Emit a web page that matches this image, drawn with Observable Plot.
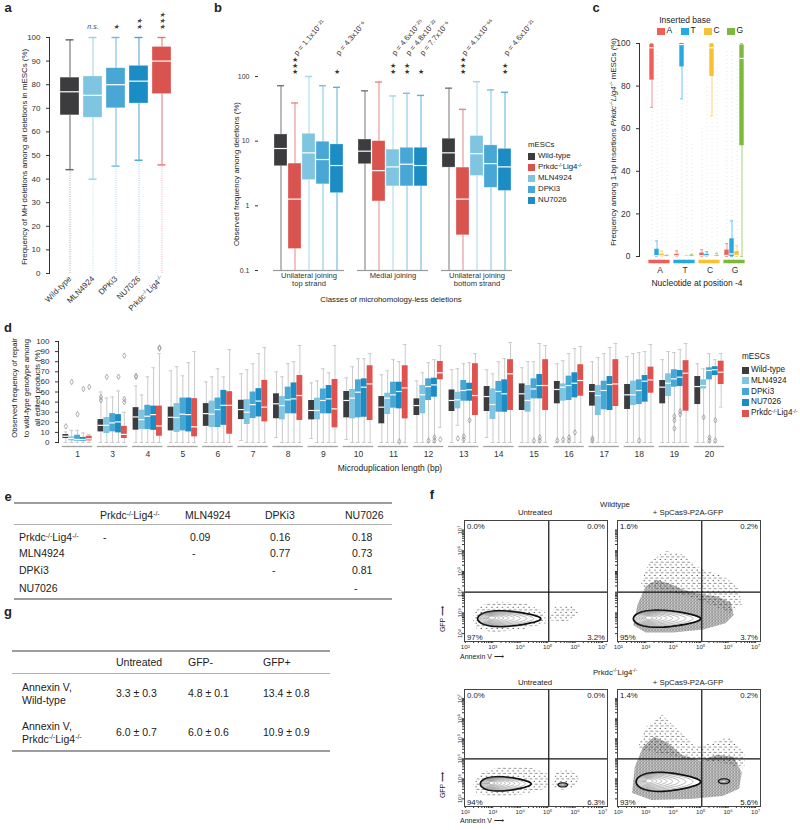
<!DOCTYPE html>
<html><head><meta charset="utf-8">
<script src="https://cdn.jsdelivr.net/npm/d3@7"></script>
<script src="https://cdn.jsdelivr.net/npm/@observablehq/plot@0.6"></script>
<style>
body{margin:0;background:#fff}
#fig{position:relative;width:800px;height:830px;overflow:hidden;background:#fff;font-family:"Liberation Sans",Arial,Helvetica,sans-serif;color:#222}
.t{position:absolute;white-space:nowrap;line-height:1.15}
.t sup{font-size:65%;vertical-align:0;position:relative;top:-0.5em;line-height:0}
.blk{position:absolute}
</style></head><body>
<div id="fig"></div>
<script>
// ---------------- DATA ----------------
const colWT="#3c3c3f", colPrk="#d9534f", colMLN="#7fc5e1", colDPK="#48a7d5", colNU="#1b8cc4";

// Panel a
const aGroups=["Wild-type","MLN4924","DPKi3","NU7026","Prkdc-/-Lig4-/-"];
const aLow=[44,40,45.5,48,46];
const aQ1=[67,66,70,72,76];
const aMed=[77,75.5,80,81.5,90];
const aQ3=[83,83.5,87,88,96];
const aHigh=[99,100,100,100,100];
const aOutMin=[0,0,0,0,0];
const aSig=["","n.s.","★","★\n★","★\n★\n★"];
const aYTicks=[0,10,20,30,40,50,60,70,80,90,100];

// Panel b
const bGroups=["Unilateral joining\ntop strand","Medial joining","Unilateral joining\nbottom strand"];
const bSeries=["Wild-type","Prkdc-/-Lig4-/-","MLN4924","DPKi3","NU7026"];
const bHigh=[[72,39,100,72,68],[60,82,50,55,51],[66,31,83,62,57]];
const bQ3=[[12.7,4.5,13,9.8,8.9],[10.6,10,7.4,7.9,7.9],[10.9,3.9,12,8.6,7.6]];
const bMed=[[7.7,1.27,6.6,5.2,4.2],[7.0,3.5,4.0,4.4,4.2],[6.6,1.27,6.4,4.5,4.0]];
const bQ1=[[4.1,0.215,2.5,2.15,1.57],[4.4,1.17,2.0,2.0,2.0],[3.9,0.35,2.9,1.9,1.7]];
const bLow=[[0.1,0.1,0.1,0.1,0.1],[0.1,0.1,0.1,0.1,0.1],[0.1,0.1,0.1,0.1,0.1]];
const bSig=[["","★\n★\n★","","","★"],["","","★\n★","★\n★","★"],["","★\n★\n★","","","★\n★"]];
const bP=[["","p = 1.1x10⁻²¹","","","p = 4.3x10⁻⁶"],["","","p = 4.6x10⁻²⁵","p = 4.8x10⁻²²","p = 7.7x10⁻⁶"],["","p = 4.1x10⁻⁶⁶","","","p = 4.6x10⁻²¹"]];
const bYTicks=[0.1,1,10,100];

// Panel c  (rows: nucleotide at -4; columns: inserted base A,T,C,G)
const cPositions=["A","T","C","G"];
const cBases=["A","T","C","G"];
const cLow=[[70,0,0,0],[0,74,0,0],[0,0,66,0],[0,0,0,0]];
const cQ1=[[82.8,0,0,0],[0,89,0,0],[0,0,84.5,0],[0,0,0,52]];
const cMed=[[98,0.4,0.3,0.1],[0.3,99.5,0.1,0.1],[0.4,0.3,98,0.1],[0.5,1.2,0.5,93]];
const cQ3=[[99.5,3.4,1.1,0.4],[1.0,100,0.3,0.4],[1.6,1.0,99.7,0.4],[3,8.3,2.3,99.3]];
const cHigh=[[100,7.3,2.6,0.6],[2.6,100,0.5,1],[3.2,2.2,100,1.5],[6,16.7,5,100]];
const cOutLo=[[0,8,3,1],[3,0,1,1],[3,2,0,2],[6,17,5,0]];
const cOutHi=[[69,97,93,73],[30,73,91,53],[60,80,65,92],[96,97,92,0]];
const cYTicks=[0,20,40,60,80,100];

// Panel d  ([low whisker, q1, median, q3, high whisker] per microduplication length)
const dLengths=[1,3,4,5,6,7,8,9,10,11,12,13,14,15,16,17,18,19,20];
const dSeries=["Wild-type","MLN4924","DPKi3","NU7026","Prkdc-/-Lig4-/-"];
const dWildType=[[0,4,6.2,7.9,10.5],[0,10.5,17,22.7,50],[0,12.2,25.3,34.5,56],[0,11.5,25,35,71],[0,16,28.6,38.5,60],[2,22.7,32.6,41.8,68],[5,23.5,38.3,48.2,70],[4,22.4,31.7,41.6,59],[3,24.4,41.6,50.5,64],[0,18.5,35,45.5,67],[0,26.7,36.6,43.2,61],[0,30.7,41.6,52,72],[5,30.7,45.5,55.4,72],[0,31.7,48.2,58,74],[0,38.3,52.5,60.4,78],[0,36,50.5,57.4,80],[0,32.7,47.2,57.4,85],[0,38.3,54.8,61.4,82],[0,37.6,55.4,65.3,78]];
const dMLN4924=[[0,1.6,4,5.6,12],[0,8.9,17,24.7,44],[0,12.8,22.7,32,47],[0,10,24.7,38.5,75],[0,14.8,28,41,65],[0,17.8,30,42.4,72],[0,22.4,36.6,45.5,65],[0,22.4,31.7,43.9,61],[0,23.4,43.9,52.5,75],[0,27.7,43.9,48.8,71],[0,28.4,47.2,56.4,69],[17,33.3,42.3,49.8,73],[0,22.8,37.6,53,68],[0,30,41.6,56.4,80],[0,40.9,54.8,58,81],[0,26.7,46.5,56.4,84],[0,36.6,47.2,60.7,88],[0,45.5,58.7,68,90],[0,53,56.4,62,73]];
const dDPKi3=[[0,1.3,3,7.2,12],[0,10.5,19.4,28.6,45],[0,12.8,26,36.8,65],[0,11.5,28,44,66],[0,14.8,32.6,44,73],[0,23.7,37.5,50,78],[0,28.4,42.3,54.8,78],[0,28.4,41.6,53,73],[0,24.4,49.8,62,83],[0,34,47.2,59.7,82],[0,41.6,55.4,63,79],[0,40.9,51.5,61.4,78],[0,30,50.5,60.4,80],[0,43.2,53,63,80],[0,41.6,56.4,65.7,88],[0,32.4,51.5,60.7,88],[0,37.6,51.5,62,89],[0,54.8,63,72,89],[0,62,71.3,74,88]];
const dNU7026=[[0,1.3,3,5,9.5],[0,9.5,20.4,27.6,51],[0,12,27.6,36,74],[0,10.5,27.6,44,79],[0,17,36.8,51.6,65],[0,25.3,41,53.3,88],[0,28.4,43.2,59,80],[0,28.4,43.2,56.4,69],[0,25,54.8,63,83],[0,33.3,50.5,59.7,80],[0,44.9,57,63.7,82],[0,40.9,52.2,58.7,79],[0,30,48.2,62,83],[0,43.2,56.4,67.3,98],[0,44.2,58.7,69,93],[0,31.7,57.4,65.3,94],[0,39.9,60.7,66.3,90],[0,55.4,64.7,71.3,92],[0,66.3,72,75,82]];
const dPrkdc=[[0,1.6,3.6,6.2,8],[0,4,8,16,30],[0,6.2,16.4,36,88],[0,5.6,15.5,43.4,90],[0,8.2,36.8,50.3,92],[0,20.4,35,61.5,94],[0,21.8,46.5,66.3,96],[0,14.5,33.3,62.4,96],[0,21.8,58,76,88],[0,23.4,54,76,97],[15,62,69,80.2,96],[0,26.7,46.5,78,88],[0,31.7,68,82,99],[0,31.7,56.4,82,96],[0,45.8,61.4,77,95],[0,35.6,58,82,98],[0,48.8,62,74.6,97],[0,31,68.6,81,98],[35,57.4,69.6,80.5,88]];
// outliers: [length, series index, value]
const dOutliers=[[1,0,16],[1,1,60],[1,2,28],[1,3,53],[1,4,55],[3,0,45],[3,0,42],[3,1,65],[3,3,65],[3,4,43],[3,4,40],[3,4,86],[4,0,66],[4,0,65],[4,4,94],[4,4,93],[11,3,1],[12,2,2],[12,3,2],[12,3,5],[12,4,3],[13,1,4],[13,2,6],[13,2,3],[13,3,22],[15,2,2],[15,3,2],[15,3,5],[16,0,2],[16,1,3],[16,2,2],[16,2,5],[16,3,10],[17,0,2],[17,0,4],[18,2,2],[19,2,26],[19,2,22],[19,2,14],[19,3,31],[19,3,28],[20,1,25],[20,2,2],[20,2,5],[20,3,22],[20,3,2]];
const dYTicks=[0,10,20,30,40,50,60,70,80,90,100];

// Panel e
const eCols=["Prkdc-/-Lig4-/-","MLN4924","DPKi3","NU7026"];
const eRowLabels=["Prkdc-/-Lig4-/-","MLN4924","DPKi3","NU7026"];
const eVals=[["-","0.09","0.16","0.18"],["","-","0.77","0.73"],["","","-","0.81"],["","","","-"]];

// Panel g
const gCols=["Untreated","GFP-","GFP+"];
const gRowLabels=["Annexin V,<br>Wild-type","Annexin V,<br>Prkdc-/-Lig4-/-"];
const gVals=[["3.3 ± 0.3","4.8 ± 0.1","13.4 ± 0.8"],["6.0 ± 0.7","6.0 ± 0.6","10.9 ± 0.9"]];

// Panel f (flow cytometry; log10 units for shapes)
const fQuadTL=["0.0%","1.6%","0.0%","1.4%"];
const fQuadTR=["0.0%","0.2%","0.0%","0.2%"];
const fQuadBL=["97%","95%","94%","93%"];
const fQuadBR=["3.2%","3.7%","6.3%","5.6%"];
const fGateX=[10**5.04,10**5.04,10**5.04,10**5.04];
const fGateY=[1e4,1e4,1e4,1e4];
// main population contour: [left, right, centre y, half height, focus x]
const fMainPop=[[2.45,4.75,2.72,0.48,2.95],[2.55,5.0,2.72,0.52,3.1],[2.55,4.4,2.75,0.45,2.95],[2.65,5.0,2.85,0.6,3.1]];
// second population: [cx, cy, rx, ry]
const fSecondPop=[null,null,[5.55,2.7,0.17,0.1],[5.85,2.88,0.2,0.12]];
const fCloudSparse=[
 [[[2.25,2.75],[2.5,3.35],[3.2,3.55],[4.2,3.45],[4.9,3.05],[4.95,2.5],[4.1,2.2],[3.0,2.05],[2.4,2.25]],[[5.05,2.65],[5.25,3.3],[5.9,3.35],[6.15,3.0],[5.7,2.6]]],
 [[[2.8,4.3],[3.1,5.4],[3.7,6.0],[4.4,5.8],[4.9,5.2],[5.3,5.0],[5.8,4.8],[6.4,4.2],[6.5,3.4],[6.1,3.0],[5.0,3.6],[4.0,4.0]]],
 [[[2.3,2.7],[2.55,3.3],[3.3,3.6],[4.4,3.55],[5.0,3.25],[5.0,2.55],[4.2,2.25],[3.1,2.1],[2.4,2.3]],[[5.15,2.6],[5.3,3.35],[5.8,3.45],[6.15,3.1],[6.0,2.55],[5.5,2.45]]],
 [[[2.7,4.5],[3.0,5.6],[3.6,6.2],[4.2,5.4],[4.8,4.6],[5.4,4.8],[6.0,5.1],[6.6,4.3],[6.6,3.5],[5.8,3.8],[4.5,4.0]]]
];
const fCloudDense=[
 [],
 [[[2.55,2.4],[2.7,3.4],[3.0,4.3],[3.4,4.6],[3.9,4.4],[4.4,4.1],[5.0,3.9],[5.6,3.8],[6.1,3.5],[6.2,2.9],[5.9,2.5],[5.1,2.2],[4.0,2.05],[3.0,2.05]]],
 [],
 [[[2.5,2.3],[2.6,3.6],[2.9,4.6],[3.3,5.1],[3.8,4.8],[4.3,4.2],[5.0,3.9],[5.6,4.2],[6.2,4.1],[6.5,3.3],[6.4,2.5],[5.8,2.15],[4.6,2.0],[3.2,1.95]]]
];

// ---------------- HELPERS ----------------
const FONT='"Liberation Sans", Arial, Helvetica, sans-serif';
const fig=document.getElementById("fig");
const SVGNS="http://www.w3.org/2000/svg";
function lighten(c,t){return d3.interpolateRgb(c,"#ffffff")(t);}
function sup(s){return s.replace(/-\/-/g,"<sup>-/-</sup>");}
function addText(html,x,y,o={}){
  const d=document.createElement("div");d.className="t";d.innerHTML=html;
  d.style.fontSize=(o.size||8)+"px";d.style.left=x+"px";d.style.top=y+"px";
  if(o.weight)d.style.fontWeight=o.weight;
  if(o.italic)d.style.fontStyle="italic";
  if(o.align)d.style.textAlign=o.align;
  if(o.lh)d.style.lineHeight=o.lh;
  if(o.color)d.style.color=o.color;
  const ax=o.anchor==="start"?"0%":o.anchor==="end"?"-100%":"-50%";
  d.style.transform=`translate(${ax},-50%)`+(o.rotate?` rotate(${o.rotate}deg)`:"");
  fig.appendChild(d);return d;
}
function block(x,y,w,h,c){const d=document.createElement("div");d.className="blk";
  Object.assign(d.style,{left:x+"px",top:y+"px",width:w+"px",height:h+"px",background:c});fig.appendChild(d);return d;}
function supify(svg){
  svg.querySelectorAll("text").forEach(t=>{
    if(t.querySelector("tspan"))return;
    const s=t.textContent; if(!s.includes("-/-"))return;
    const parts=s.split("-/-"); t.textContent="";
    parts.forEach((p,i)=>{const a=document.createElementNS(SVGNS,"tspan");a.textContent=p;t.appendChild(a);
      if(i<parts.length-1){const u=document.createElementNS(SVGNS,"tspan");u.setAttribute("baseline-shift","super");u.setAttribute("font-size","65%");u.textContent="-/-";t.appendChild(u);}});
  });
}
function place(svg,x,y){svg.style.position="absolute";svg.style.left=x+"px";svg.style.top=y+"px";fig.appendChild(svg);supify(svg);return svg;}
const baseStyle=(fs)=>({background:"transparent",fontFamily:FONT,fontSize:fs,color:"#333",overflow:"visible"});
function boxMarks(rows,o={}){
  const ci=o.capInset??3, bi=o.boxInset??0;
  const m=[Plot.ruleX(rows,{x:"key",y1:"lo",y2:"hi",stroke:d=>d.wcol,strokeWidth:o.ww??1}),
    Plot.tickY(rows,{x:"key",y:"hi",stroke:d=>d.wcol,strokeWidth:o.cw??1.4,insetLeft:ci,insetRight:ci})];
  if(o.lowCap!==false)m.push(Plot.tickY(rows,{x:"key",y:"lo",stroke:d=>d.wcol,strokeWidth:o.cw??1.4,insetLeft:ci,insetRight:ci}));
  m.push(Plot.barY(rows,{x:"key",y1:"q1",y2:"q3",fill:d=>d.col,stroke:o.bs??"none",strokeWidth:0.7,insetLeft:bi,insetRight:bi}));
  m.push(Plot.tickY(rows,{x:"key",y:"med",stroke:"white",strokeWidth:o.mw??1.2,insetLeft:bi,insetRight:bi}));
  return m;
}

// ---------------- PANEL A ----------------
const aColors=[colWT,colMLN,colDPK,colNU,colPrk];
const aRows=aGroups.map((g,i)=>({key:g,lo:aLow[i],q1:aQ1[i],med:aMed[i],q3:aQ3[i],hi:aHigh[i],out:aOutMin[i],sig:aSig[i],col:aColors[i],wcol:lighten(aColors[i],0.2)}));
const pa=Plot.plot({width:200,height:310,marginTop:37,marginBottom:37,marginLeft:49,marginRight:25,
  style:baseStyle("8px"),color:{type:"identity"},
  x:{domain:aGroups,padding:0.16,insetLeft:7,tickRotate:-45,tickSize:0,tickPadding:4,label:null},
  y:{domain:[0,100],ticks:aYTicks,tickSize:3,line:true,label:null},
  marks:[
    Plot.ruleX(aRows,{x:"key",y1:"out",y2:"lo",stroke:d=>d.col,strokeOpacity:0.22,strokeWidth:2.2,strokeDasharray:"1,1.3"}),
    ...boxMarks(aRows,{capInset:5.5,bs:"rgba(255,255,255,0.45)"}),
    Plot.text(aRows,{x:"key",text:"sig",frameAnchor:"top",dy:-9,lineAnchor:"bottom",fontSize:7,lineHeight:0.85,fontStyle:"italic",fill:"#444"})
  ]});
place(pa,0,0);
addText("a",8,8,{size:13,weight:"bold"});
addText("Frequency of MH deletions among all deletions in mESCs (%)",25,157,{size:7.9,rotate:-90});

// ---------------- PANEL B ----------------
const bColors=[colWT,colPrk,colMLN,colDPK,colNU];
const bDomain=[];
bGroups.forEach((g,gi)=>{bSeries.forEach((s,si)=>bDomain.push(gi+"|"+si));if(gi<bGroups.length-1)bDomain.push("gap"+gi);});
const bRows=[];
bGroups.forEach((g,gi)=>bSeries.forEach((s,si)=>bRows.push({key:gi+"|"+si,lo:bLow[gi][si],q1:bQ1[gi][si],med:bMed[gi][si],q3:bQ3[gi][si],hi:bHigh[gi][si],sig:bSig[gi][si],p:bP[gi][si],col:bColors[si],wcol:lighten(bColors[si],0.3),base:bYTicks[0]})));
const pb=Plot.plot({width:400,height:310,marginTop:76,marginBottom:40,marginLeft:58,marginRight:83,
  style:baseStyle("7px"),color:{type:"identity"},
  x:{domain:bDomain,padding:0.1,insetLeft:10,axis:null},
  y:{type:"log",domain:[0.1,100],ticks:bYTicks,tickFormat:d=>d<1?"0.1":String(d),tickSize:3,label:null},
  marks:[
    Plot.tickY(bRows,{x:"key",y:"base",stroke:"#9a9a9a",strokeWidth:1.2,insetLeft:-1,insetRight:-1}),
    ...boxMarks(bRows,{capInset:3,lowCap:false,bs:"rgba(255,255,255,0.4)"}),
    Plot.text(bRows,{x:"key",text:"sig",frameAnchor:"top",dy:-3,lineAnchor:"bottom",fontSize:6.5,lineHeight:0.85,fill:"#333"}),
    Plot.text(bRows,{x:"key",text:"p",frameAnchor:"top",dy:-24,dx:-2,rotate:-50,textAnchor:"start",fontSize:7.6,fill:"#333"}),
    Plot.text(bGroups,{x:(d,i)=>i+"|2",text:d=>d,frameAnchor:"bottom",dy:1.5,lineAnchor:"top",fontSize:7.6,lineHeight:1.05,fill:"#333"})
  ]});
place(pb,200,0);
addText("b",218,8,{size:13,weight:"bold"});
addText("Observed frequency among deletions (%)",237,174,{size:7.8,rotate:-90});
addText("Classes of microhomology-less deletions",391,300,{size:7.8});
addText("mESCs",528,145,{anchor:"start",size:7.8});
bSeries.forEach((s,i)=>{const y=156+i*11.1;block(528,y-3.5,7,7,bColors[i]);addText(sup(s),538,y,{anchor:"start",size:7.8});});

// ---------------- PANEL C ----------------
const cColors={A:"#ee5f58",T:"#26a8e0",C:"#f8c133",G:"#7cb93d"};
const cDomain=[];
cPositions.forEach((p,pi)=>{cBases.forEach(b=>cDomain.push(p+"|"+b));if(pi<cPositions.length-1)cDomain.push("gap"+pi);});
const cRows=[];
cPositions.forEach((p,pi)=>cBases.forEach((b,bi)=>cRows.push({key:p+"|"+b,pos:p,lo:cLow[pi][bi],q1:cQ1[pi][bi],med:cMed[pi][bi],q3:cQ3[pi][bi],hi:cHigh[pi][bi],olo:cOutLo[pi][bi],ohi:cOutHi[pi][bi],col:cColors[b],wcol:lighten(cColors[b],0.35),base:0})));
const pc=Plot.plot({width:210,height:310,marginTop:43,marginBottom:54,marginLeft:49,marginRight:47,
  style:baseStyle("8.5px"),color:{type:"identity"},
  x:{domain:cDomain,padding:0,insetLeft:1,axis:null},
  y:{domain:[0,100],ticks:cYTicks,tickSize:3,line:true,label:null},
  marks:[
    Plot.ruleX(cRows.filter(d=>d.ohi>d.olo),{x:"key",y1:"olo",y2:"ohi",stroke:"#a8a8a8",strokeOpacity:0.4,strokeWidth:1,strokeDasharray:"0.7,3.2"}),
    ...boxMarks(cRows,{capInset:1,cw:1.1,boxInset:0.3}),
    Plot.tickY(cRows,{x:"key",y:"base",dy:5,stroke:d=>cColors[d.pos],strokeWidth:3.5,insetLeft:-0.6,insetRight:-0.6}),
    Plot.text(cPositions,{x:p=>p+"|T",dx:3,text:d=>d,frameAnchor:"bottom",dy:16,fontSize:8.5,fill:"#333"})
  ]});
place(pc,590,0);
addText("c",596,8,{size:13,weight:"bold"});
addText("Inserted base",685,21,{size:8.5});
cBases.forEach((b,i)=>{const x=[657,681,704,727][i];block(x,27.5,8,7,cColors[b]);addText(b,x+9.5,31,{anchor:"start",size:8.5});});
addText("Frequency among 1-bp insertions <i>"+sup("Prkdc-/-Lig4-/-")+"</i> mESCs (%)",614,142,{size:7.9,rotate:-90});
addText("Nucleotide at position -4",697,284,{size:8.5});

// ---------------- PANEL D ----------------
const dColors=[colWT,colMLN,colDPK,colNU,"#e0524d"];
const dStats=[dWildType,dMLN4924,dDPKi3,dNU7026,dPrkdc];
const dDomain=[];
dLengths.forEach((L,i)=>{dSeries.forEach((s,j)=>dDomain.push(L+"|"+j));if(i<dLengths.length-1)dDomain.push("gap"+i);});
const dRows=[];
dLengths.forEach((L,i)=>dSeries.forEach((s,j)=>{const v=dStats[j][i];dRows.push({key:L+"|"+j,lo:v[0],q1:v[1],med:v[2],q3:v[3],hi:v[4],col:dColors[j],wcol:"#cacaca",base:0});}));
const pd=Plot.plot({width:800,height:170,marginTop:31,marginBottom:38,marginLeft:58,marginRight:76.4,
  style:baseStyle("8px"),color:{type:"identity"},
  x:{domain:dDomain,padding:0,insetLeft:4.4,axis:null},
  y:{domain:[0,100],ticks:dYTicks,tickSize:3,line:true,label:null},
  marks:[
    Plot.tickY(dRows,{x:"key",y:"base",dy:4,stroke:"#a3a3a3",strokeWidth:1.3,insetLeft:-0.6,insetRight:-0.6}),
    ...boxMarks(dRows,{capInset:1.1,cw:1}),
    Plot.dot(dOutliers,{x:d=>d[0]+"|"+d[1],y:d=>d[2],symbol:"diamond",r:1.7,stroke:"#9a9a9a",fill:"none",strokeWidth:0.8}),
    Plot.text(dLengths,{x:d=>d+"|2",text:d=>String(d),frameAnchor:"bottom",dy:14,fontSize:8.5,fill:"#333"})
  ]});
place(pd,0,310);
addText("d",8,328,{size:13,weight:"bold"});
addText("Observed frequency of repair<br>to wild-type genotype among<br>all edited products (%)",26,388,{size:7.7,rotate:-90,align:"center",lh:"11.5px"});
addText("Microduplication length (bp)",390,469,{size:8.5});
addText("mESCs",742,357,{anchor:"start",size:8.2});
dSeries.forEach((s,i)=>{const y=370+i*10.8;block(742,y-3.5,7,7,dColors[i]);addText(sup(s),751,y,{anchor:"start",size:8.2});});

// ---------------- PANEL E ----------------
addText("e",8,497,{size:13,weight:"bold"});
block(14,502,378,1.5,"#9d9d9d");
block(14,524,378,1,"#b0b0b0");
block(14,598,378,1.5,"#9d9d9d");
const eHeadX=[100,185,265,345], eValX=[101,190,270,352], eRowY=[537,553,570,588];
eCols.forEach((c,j)=>addText(sup(c),eHeadX[j],515,{anchor:"start",size:10.5}));
eRowLabels.forEach((r,i)=>{addText(sup(r),19,eRowY[i],{anchor:"start",size:10.5});
  eVals[i].forEach((v,j)=>{if(v)addText(v,eValX[j]+(v==="-"?2:0),eRowY[i],{anchor:"start",size:10.5});});});

// ---------------- PANEL G ----------------
addText("g",8,612,{size:13,weight:"bold"});
block(12,650,318,1.5,"#9d9d9d");
block(12,673,318,1,"#b0b0b0");
block(12,750,318,1.5,"#9d9d9d");
const gColX=[116,188,263], gRowY=[693,732];
gCols.forEach((c,j)=>addText(c,gColX[j],662,{anchor:"start",size:10.5}));
gRowLabels.forEach((r,i)=>{addText(sup(r),22,gRowY[i],{anchor:"start",size:10.5,lh:"12.5px"});
  gVals[i].forEach((v,j)=>addText(v,gColX[j],gRowY[i],{anchor:"start",size:10.5}));});

// ---------------- PANEL F ----------------
const supDig={2:"²",3:"³",4:"⁴",5:"⁵",6:"⁶",7:"⁷"};
const fTicks=[];for(let e=2;e<=7;e++)for(let m=1;m<=9;m++){const v=m*10**e;if(v<=1e7)fTicks.push(v);}
function fFmt(d){const e=Math.round(Math.log10(d));return Math.abs(d/10**e-1)<1e-9?"10"+supDig[e]:"";}
function teardrop(p,levels){const [xl,xr,yc,h,xf]=p;const pts=[];
  for(let i=0;i<levels;i++){const f=1-i/levels*0.9;const L=xf-(xf-xl)*f,R=xf+(xr-xf)*Math.pow(f,1.5),H=h*f,Y=yc+(i/levels)*0.05;
    for(let k=0;k<72;k++){const t=k/72*2*Math.PI;const u=(1-Math.cos(t))/2;pts.push({x:10**(L+(R-L)*u),y:10**(Y+H*Math.sin(t)*(1-0.5*u)),level:i});}}
  return pts;}
function rings(p,levels){const [cx,cy,rx,ry]=p;const pts=[];
  for(let i=0;i<levels;i++){const f=1-i/levels*0.8;
    for(let k=0;k<40;k++){const t=k/40*2*Math.PI;pts.push({x:10**(cx+rx*f*Math.cos(t)),y:10**(cy+ry*f*Math.sin(t)),level:i});}}
  return pts;}
function polyPts(polys){const pts=[];polys.forEach((poly,pi)=>poly.forEach(([lx,ly])=>pts.push({x:10**lx,y:10**ly,z:pi})));return pts;}
const SPARSE_KEY="#010203", DENSE_KEY="#030201";
const fFrameLeft=[464,617,464,617], fFrameTop=[520,520,689,689], fFrameH=[121,121,117,117];
for(let i=0;i<4;i++){
  const isLeft=i%2===0, ml=isLeft?24:14;
  const main=teardrop(fMainPop[i],9);
  const second=fSecondPop[i]?rings(fSecondPop[i],4):[];
  const marks=[];
  if(fCloudSparse[i].length)marks.push(Plot.line(polyPts(fCloudSparse[i]),{x:"x",y:"y",z:"z",fill:SPARSE_KEY,stroke:"none",curve:"linear-closed"}));
  if(fCloudDense[i].length)marks.push(Plot.line(polyPts(fCloudDense[i]),{x:"x",y:"y",z:"z",fill:DENSE_KEY,stroke:"none",curve:"linear-closed"}));
  marks.push(
    Plot.line(main.filter(d=>d.level===0),{x:"x",y:"y",fill:"white",stroke:"#111",strokeWidth:1.8,curve:"linear-closed"}),
    Plot.line(main.filter(d=>d.level>0),{x:"x",y:"y",z:"level",fill:"none",stroke:"#7a7a7a",strokeWidth:0.55,curve:"linear-closed"}));
  if(second.length)marks.push(
    Plot.line(second.filter(d=>d.level===0),{x:"x",y:"y",fill:"white",stroke:"#111",strokeWidth:1.4,curve:"linear-closed"}),
    Plot.line(second.filter(d=>d.level>0),{x:"x",y:"y",z:"level",fill:"none",stroke:"#666",strokeWidth:0.6,curve:"linear-closed"}));
  marks.push(
    Plot.ruleX([fGateX[i]],{stroke:"#111",strokeWidth:1.2}),
    Plot.ruleY([fGateY[i]],{stroke:"#111",strokeWidth:1.2}),
    Plot.frame({stroke:"#444"}),
    Plot.text([fQuadTL[i]],{text:d=>d,frameAnchor:"top-left",textAnchor:"start",lineAnchor:"top",dx:2.5,dy:3,fontSize:7.8,fill:"#222"}),
    Plot.text([fQuadTR[i]],{text:d=>d,frameAnchor:"top-right",textAnchor:"end",lineAnchor:"top",dx:-2.5,dy:3,fontSize:7.8,fill:"#222"}),
    Plot.text([fQuadBL[i]],{text:d=>d,frameAnchor:"bottom-left",textAnchor:"start",lineAnchor:"bottom",dx:2.5,dy:-2,fontSize:7.8,fill:"#222"}),
    Plot.text([fQuadBR[i]],{text:d=>d,frameAnchor:"bottom-right",textAnchor:"end",lineAnchor:"bottom",dx:-2.5,dy:-2,fontSize:7.8,fill:"#222"}));
  const p=Plot.plot({width:ml+143+6,height:2+fFrameH[i]+14,marginLeft:ml,marginTop:2,marginRight:6,marginBottom:14,
    style:baseStyle("6.2px"),
    x:{type:"log",domain:[10**1.97,10**7.18],ticks:fTicks,tickFormat:fFmt,tickSize:2,tickPadding:1,label:null},
    y:{type:"log",domain:[10**1.62,10**7.46],ticks:fTicks,tickFormat:isLeft?fFmt:()=>"",tickSize:2,tickPadding:1,tickRotate:-90,label:null},
    marks});
  // dot-texture patterns for the event clouds
  const defs=document.createElementNS(SVGNS,"defs");
  defs.innerHTML=`<pattern id="pS${i}" width="5.3" height="5.3" patternUnits="userSpaceOnUse"><circle cx="0.9" cy="1.2" r="0.55" fill="#111"/><circle cx="3.7" cy="3.9" r="0.55" fill="#111"/><circle cx="4.6" cy="1.1" r="0.45" fill="#333"/></pattern>`+
    `<pattern id="pD${i}" width="3" height="3" patternUnits="userSpaceOnUse"><circle cx="0.6" cy="0.7" r="0.65" fill="#000"/><circle cx="2.1" cy="1.9" r="0.65" fill="#000"/><circle cx="1.1" cy="2.6" r="0.45" fill="#111"/></pattern>`;
  p.insertBefore(defs,p.firstChild);
  p.querySelectorAll("[fill]").forEach(e=>{const f=(e.getAttribute("fill")||"").toLowerCase();
    if(f===SPARSE_KEY||f==="rgb(1, 2, 3)")e.setAttribute("fill",`url(#pS${i})`);
    if(f===DENSE_KEY||f==="rgb(3, 2, 1)")e.setAttribute("fill",`url(#pD${i})`);});
  place(p,fFrameLeft[i]-ml,fFrameTop[i]-2);
}
addText("f",432,495,{size:13,weight:"bold"});
addText("Wildtype",615,505,{size:7.8});
addText("Untreated",535,513,{size:7.8});
addText("+ SpCas9-P2A-GFP",688,513,{size:7.8});
addText(sup("Prkdc-/-Lig4-/-"),615,673,{size:7.8});
addText("Untreated",535,683,{size:7.8});
addText("+ SpCas9-P2A-GFP",688,683,{size:7.8});
addText("GFP ⟶",443,619,{size:7,rotate:-90});
addText("GFP ⟶",443,785,{size:7,rotate:-90});
addText("Annexin V ⟶",460,657,{anchor:"start",size:7});
addText("Annexin V ⟶",460,821,{anchor:"start",size:7});
</script>
</body></html>
